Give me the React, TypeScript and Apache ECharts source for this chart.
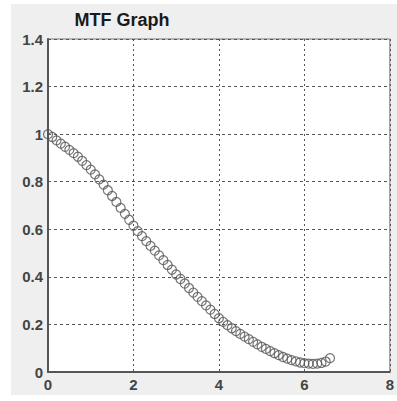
import React, { useEffect, useRef } from "react";
import * as echarts from "echarts";

const titleText = "MTF Graph";
const xTicks = [0, 2, 4, 6, 8];
const yTicks = [0, 0.2, 0.4, 0.6, 0.8, 1.0, 1.2, 1.4];
const freqValues = [
  0.0, 0.1, 0.2, 0.3, 0.4, 0.5, 0.6, 0.7, 0.8, 0.9,
  1.0, 1.1, 1.2, 1.3, 1.4, 1.5, 1.6, 1.7, 1.8, 1.9,
  2.0, 2.1, 2.2, 2.3, 2.4, 2.5, 2.6, 2.7, 2.8, 2.9,
  3.0, 3.1, 3.2, 3.3, 3.4, 3.5, 3.6, 3.7, 3.8, 3.9,
  4.0, 4.1, 4.2, 4.3, 4.4, 4.5, 4.6, 4.7, 4.8, 4.9,
  5.0, 5.1, 5.2, 5.3, 5.4, 5.5, 5.6, 5.7, 5.8, 5.9,
  6.0, 6.1, 6.2, 6.3, 6.4, 6.5, 6.6,
];
const mtfValues = [
  1.0, 0.988, 0.974, 0.96, 0.947, 0.934, 0.92, 0.905, 0.888, 0.87,
  0.851, 0.831, 0.81, 0.788, 0.764, 0.74, 0.715, 0.69, 0.665, 0.64,
  0.615, 0.592, 0.571, 0.55, 0.53, 0.51, 0.49, 0.47, 0.45, 0.43,
  0.41, 0.391, 0.372, 0.353, 0.334, 0.316, 0.298, 0.28, 0.262, 0.244,
  0.226, 0.211, 0.197, 0.184, 0.172, 0.16, 0.149, 0.138, 0.127, 0.116,
  0.106, 0.097, 0.088, 0.079, 0.071, 0.063, 0.056, 0.05, 0.045, 0.04,
  0.037, 0.035, 0.034, 0.035, 0.038, 0.044, 0.058,
];

export default function App() {
  const ref = useRef<HTMLDivElement>(null);
  useEffect(() => {
    document.body.style.margin = "0";
    const chart = echarts.init(ref.current!, null, { renderer: "svg" });
    const data = freqValues.map((x, i) => [x, mtfValues[i]]);
    const font = "Liberation Sans, Arial, sans-serif";
    chart.setOption({
      animation: false,
      backgroundColor: "#ffffff",
      graphic: [
        {
          type: "rect",
          z: -10,
          silent: true,
          shape: { x: 11, y: 4, width: 386, height: 391 },
          style: { fill: "#efefef" },
        },
      ],
      title: {
        text: titleText,
        left: 117,
        top: 6,
        textAlign: "center",
        textStyle: {
          fontFamily: font,
          fontWeight: "bold",
          fontSize: 18,
          color: "#1a1a1a",
        },
      },
      grid: {
        left: 48,
        right: 3,
        top: 39,
        bottom: 29,
        show: true,
        backgroundColor: "#ffffff",
        borderColor: "#777777",
        borderWidth: 1,
      },
      xAxis: {
        type: "value",
        min: xTicks[0],
        max: xTicks[xTicks.length - 1],
        interval: 2,
        axisLine: { show: true, onZero: false, lineStyle: { color: "#555555", width: 2 } },
        axisTick: { show: false },
        axisLabel: {
          margin: 5,
          fontSize: 15,
          fontWeight: "bold",
          color: "#444444",
          fontFamily: font,
          formatter: (v: number) => String(v),
        },
        splitLine: { show: true, lineStyle: { color: "#555555", type: [2, 3], width: 1 } },
      },
      yAxis: {
        type: "value",
        min: yTicks[0],
        max: yTicks[yTicks.length - 1],
        interval: 0.2,
        axisLine: { show: true, onZero: false, lineStyle: { color: "#555555", width: 2 } },
        axisTick: { show: false },
        axisLabel: {
          margin: 5,
          fontSize: 15,
          fontWeight: "bold",
          color: "#444444",
          fontFamily: font,
          formatter: (v: number) => (v === 0 ? "0" : v === 1 ? "1" : v.toFixed(1)),
        },
        splitLine: { show: true, lineStyle: { color: "#555555", type: [3, 3], width: 1 } },
      },
      series: [
        {
          type: "scatter",
          data,
          symbol: "circle",
          symbolSize: 9,
          itemStyle: { color: "rgba(255,255,255,0)", borderColor: "#555555", borderWidth: 1.2 },
        },
      ],
    });
    return () => chart.dispose();
  }, []);
  return <div ref={ref} style={{ width: 397, height: 401 }} />;
}
